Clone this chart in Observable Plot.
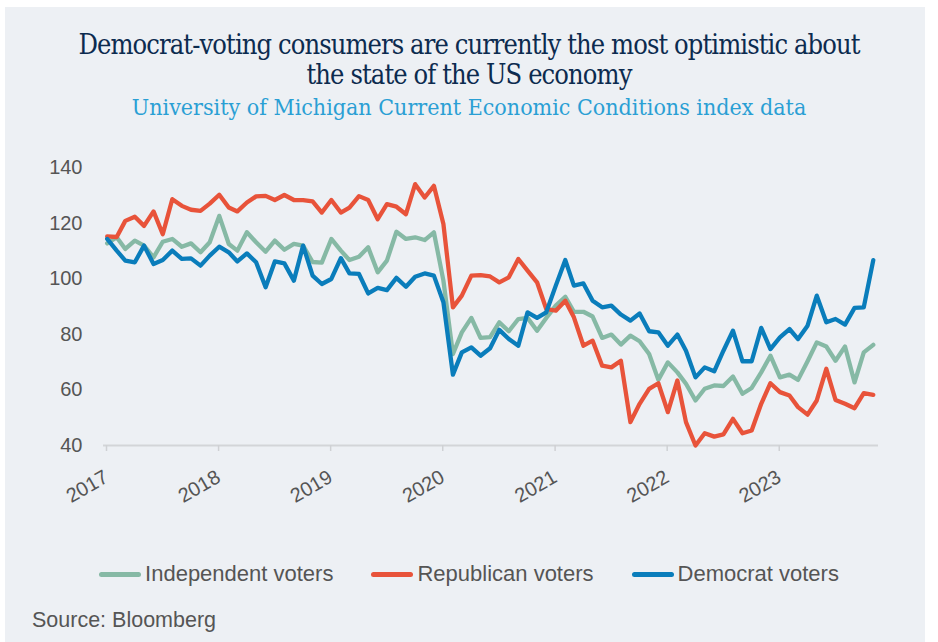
<!DOCTYPE html>
<html>
<head>
<meta charset="utf-8">
<script src="https://cdn.jsdelivr.net/npm/d3@7"></script>
<script src="https://cdn.jsdelivr.net/npm/@observablehq/plot@0.6"></script>
<style>
  html, body { margin: 0; padding: 0; background: #ffffff; width: 938px; height: 642px; overflow: hidden; }
  #panel { position: absolute; left: 5px; top: 7px; width: 920px; height: 635px; background: #edf0f4; }
  .title { position: absolute; left: 0; width: 938px; text-align: center; color: #0c2b4f;
           font-family: "DejaVu Serif Condensed", "DejaVu Serif", serif; font-stretch: condensed;
           font-size: 27px; line-height: 30px; letter-spacing: -0.9px; }
  .subtitle { position: absolute; left: 0; width: 938px; text-align: center; color: #2a9fd4;
           font-family: "DejaVu Serif Condensed", "DejaVu Serif", serif; font-stretch: condensed; font-weight: 300;
           font-size: 23px; line-height: 26px; letter-spacing: 0px; }
  #chart { position: absolute; left: 0; top: 140px; }
  #legend { position: absolute; left: 0; top: 561px; width: 938px; display: flex; justify-content: center; gap: 38px;
            font-family: "Liberation Sans", Arial, sans-serif; font-size: 22px; color: #555; }
  .item { display: flex; align-items: center; gap: 4px; }
  .sw { width: 42px; height: 5px; border-radius: 3px; display: inline-block; }
  #source { position: absolute; left: 32px; top: 608px; font-family: "Liberation Sans", Arial, sans-serif; font-size: 21.5px; color: #555; }
</style>
</head>
<body>
<div id="panel"></div>
<div class="title" style="top:30px">Democrat-voting consumers are currently the most optimistic about</div>
<div class="title" style="top:60px">the state of the US economy</div>
<div class="subtitle" style="top:94px">University of Michigan Current Economic Conditions index data</div>
<div id="chart"></div>
<div id="legend"></div>
<div id="source">Source: Bloomberg</div>
<script>
// Monthly data, Jan 2017 – Nov 2023
const seriesNames = ["Independent voters", "Republican voters", "Democrat voters"];
const seriesColors = ["#86b9a5", "#e8533a", "#0a7dbb"];
const yTicks = [40, 60, 80, 100, 120, 140];
const xTickYears = [2017, 2018, 2019, 2020, 2021, 2022, 2023];

const independent = [112.7,114.9,110.7,113.7,111.9,107.7,113.3,114.3,111.5,112.7,109.5,113.1,
  122.6,112.5,110.1,116.7,113.1,109.7,113.7,110.4,112.5,111.9,106.0,105.8,
  114.3,110.1,106.7,107.9,111.3,102.3,106.5,116.9,114.3,114.9,113.9,116.7,
  99.3,72.9,80.7,85.9,78.7,79.0,84.3,81.1,85.5,85.9,81.3,85.9,
  90.3,93.5,88.1,88.1,86.4,78.7,79.9,76.3,79.5,77.5,72.9,63.6,
  69.9,66.3,62.2,56.2,60.4,61.6,61.4,64.8,58.6,60.7,66.3,72.3,
  64.5,65.5,63.6,70.3,77.1,75.6,70.5,75.6,62.7,73.5,76.2];
const republican = [115.2,115.0,120.8,122.3,119.0,124.2,116.0,128.6,126.2,124.8,124.4,127.0,
  130.2,125.6,124.2,127.4,129.6,129.8,128.3,130.1,128.3,128.3,127.8,123.8,
  128.3,123.8,125.6,129.7,128.3,121.4,126.8,125.9,123.2,134.0,129.2,133.4,
  119.7,89.7,93.9,101.1,101.3,100.8,98.7,100.5,107.1,102.9,98.7,89.1,
  88.5,92.1,86.1,75.9,77.7,68.7,68.1,70.5,48.4,55.0,60.4,62.4,
  52.0,63.4,48.4,40.0,44.4,43.2,44.0,49.6,44.4,45.4,55.0,62.4,
  59.2,58.0,53.8,51.1,56.2,67.6,56.4,55.0,53.4,58.8,58.2];
const democrat = [114.3,110.1,106.5,105.9,111.9,105.3,106.7,110.1,107.1,107.3,104.7,108.3,
  111.5,109.5,106.2,109.1,105.9,96.9,106.2,105.5,99.3,111.9,101.1,98.1,
  99.9,107.4,101.9,101.7,94.7,96.7,95.9,100.3,97.1,100.7,101.9,101.1,
  91.5,65.5,73.5,75.3,72.3,75.0,81.6,78.3,75.9,87.9,85.9,87.9,
  97.5,106.7,97.5,98.3,92.1,89.7,90.3,87.1,84.9,87.5,81.1,80.7,
  75.9,79.9,74.1,64.5,68.1,66.7,74.1,81.3,70.3,70.3,82.3,74.7,
  78.9,81.9,78.3,83.1,93.9,84.3,85.5,83.5,89.5,89.7,106.7];

const allValues = [independent, republican, democrat];
const rows = [];
allValues.forEach((vals, s) => {
  vals.forEach((v, i) => {
    rows.push({date: new Date(Date.UTC(2017, i, 13)), value: v, series: seriesNames[s]});
  });
});

const chart = Plot.plot({
  width: 938,
  height: 380,
  marginLeft: 103,
  marginRight: 60,
  marginTop: 27,
  marginBottom: 75,
  style: {background: "transparent", fontFamily: "'Liberation Sans', Arial, sans-serif", fontSize: "20px", color: "#555"},
  x: {type: "utc", domain: [new Date(Date.UTC(2017, 0, 1)), new Date(Date.UTC(2023, 10, 30))]},
  y: {domain: [40, 140]},
  color: {domain: seriesNames, range: seriesColors},
  marks: [
    Plot.ruleY([40], {stroke: "#d3d5d8", strokeWidth: 2}),
    Plot.axisX(xTickYears.map(y => new Date(Date.UTC(y, 0, 1))), {
      tickFormat: d3.utcFormat("%Y"), tickRotate: -30, tickSize: 6, tickPadding: 24, dx: 3,
      stroke: "#cfd1d4", strokeWidth: 1.5, fill: "#555", label: null, fontSize: 20
    }),
    Plot.axisY(yTicks, {tickSize: 0, tickPadding: 21, label: null, fill: "#555", fontSize: 20}),
    Plot.lineY(rows, {x: "date", y: "value", z: "series", stroke: "series", strokeWidth: 4.3,
      strokeLinejoin: "round", strokeLinecap: "round"})
  ]
});
document.getElementById("chart").appendChild(chart);

const legend = document.getElementById("legend");
seriesNames.forEach((n, i) => {
  const it = document.createElement("div");
  it.className = "item";
  it.innerHTML = `<span class="sw" style="background:${seriesColors[i]}"></span><span>${n}</span>`;
  legend.appendChild(it);
});
</script>
</body>
</html>
